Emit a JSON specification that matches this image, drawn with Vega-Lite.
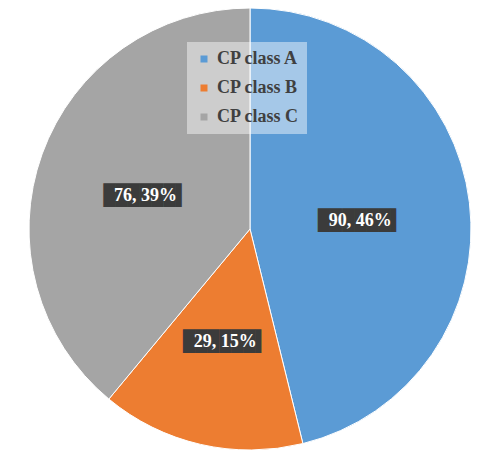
{
  "$schema": "https://vega.github.io/schema/vega-lite/v6.json",
  "width": 476,
  "height": 452,
  "padding": {"left": 12, "top": 3, "right": 0, "bottom": 0},
  "background": "white",
  "data": {
    "values": [
      {"cls": "CP class A", "value": 90, "order": 1, "label": "90, 46%"},
      {"cls": "CP class B", "value": 29, "order": 2, "label": "29, 15%"},
      {"cls": "CP class C", "value": 76, "order": 3, "label": "76, 39%"}
    ]
  },
  "encoding": {
    "theta": {"field": "value", "type": "quantitative", "stack": true},
    "order": {"field": "order", "type": "quantitative"}
  },
  "layer": [
    {
      "mark": {"type": "arc", "outerRadius": 221, "stroke": "white", "strokeWidth": 1},
      "encoding": {
        "color": {
          "field": "cls",
          "type": "nominal",
          "scale": {"domain": ["CP class A", "CP class B", "CP class C"], "range": ["#5B9BD5", "#ED7D31", "#A5A5A5"]},
          "legend": {
            "title": null,
            "orient": "none",
            "legendX": 175,
            "legendY": 39,
            "padding": 8,
            "fillColor": "rgba(255,255,255,0.45)",
            "symbolType": "square",
            "symbolSize": 49,
            "symbolStrokeWidth": 0,
            "labelFont": "Liberation Serif",
            "labelFontWeight": "bold",
            "labelFontSize": 18,
            "labelColor": "#404040",
            "labelOffset": 4,
            "rowPadding": 11
          }
        }
      }
    },
    {
      "mark": {"type": "text", "radius": 111, "dy": 5, "text": "██████▌", "font": "DejaVu Sans Mono", "fontSize": 20, "color": "#3b3b3b", "align": "center", "baseline": "middle"},
      "encoding": {}
    },
    {
      "mark": {"type": "text", "radius": 111, "dy": 5, "font": "Liberation Serif", "fontWeight": "bold", "fontSize": 18, "color": "white", "align": "center", "baseline": "middle"},
      "encoding": {
        "text": {"field": "label", "type": "nominal"}
      }
    }
  ]
}
